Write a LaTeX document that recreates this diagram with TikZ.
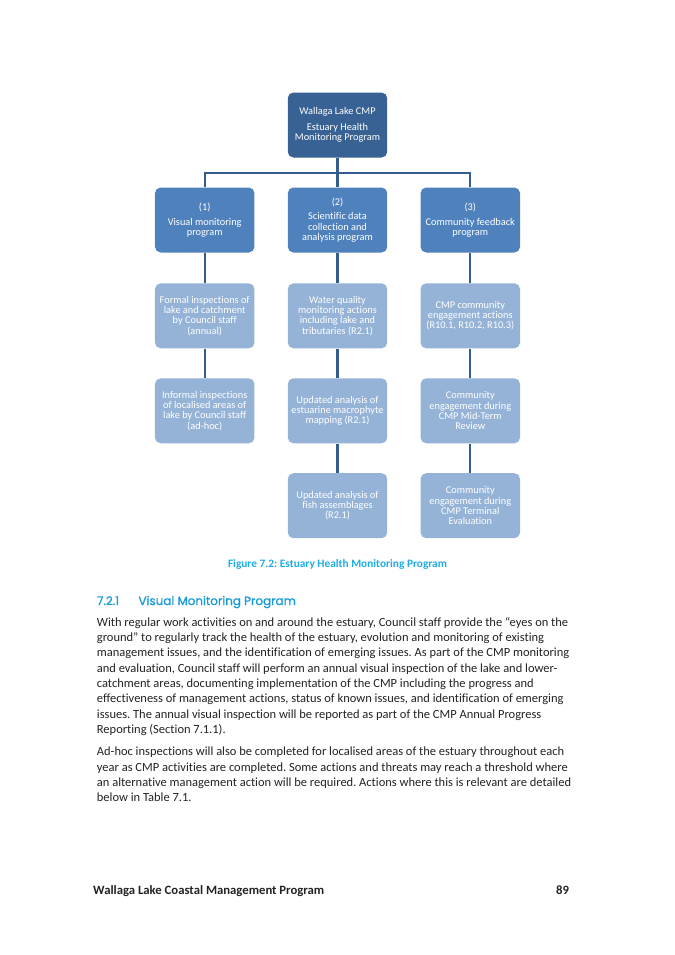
\documentclass[tikz,border=0pt]{standalone}
\usepackage{fontspec}
\setmainfont{Carlito}[Ligatures=NoCommon]
\newfontfamily\headfont{Poppins}[FakeBold=0.9]
\usepackage{xcolor}
\definecolor{topblue}{RGB}{56,98,148}
\definecolor{midblue}{RGB}{79,129,189}
\definecolor{paleblue}{RGB}{149,179,215}
\definecolor{linkblue}{RGB}{52,92,140}
\definecolor{capblue}{RGB}{30,172,232}
\definecolor{headblue}{RGB}{22,155,218}
\definecolor{bodygray}{RGB}{35,35,35}
\frenchspacing

\tikzset{
  chart/.style={rounded corners=5pt, minimum width=87.7pt, minimum height=57.3pt,
    inner sep=1pt, align=center, text=white, font=\fontsize{9.1}{9.1}\selectfont},
  topbox/.style={chart, fill=topblue},
  progbox/.style={chart, fill=midblue},
  taskbox/.style={chart, fill=paleblue},
  link/.style={draw=linkblue, line width=1.8pt},
  bodytext/.style={anchor=north west, align=left, inner sep=0pt, text=bodygray,
    font=\fontsize{11}{13.5}\selectfont},
}

\begin{document}
\begin{tikzpicture}[x=0.8815pt,y=-0.8815pt]
    \useasboundingbox[fill=white] (0,0) rectangle (675,955);

    % top of the chart
    \node[topbox] (top) at (337.5,125) {Wallaga Lake CMP\\[4.5pt] Estuary Health\\ Monitoring Program};

    % the three programs
    \node[progbox] (visual) at (204.7,220) {(1)\\[4pt] Visual monitoring\\ program};
    \node[progbox] (science) at (337.5,220) {(2)\\[4pt] Scientific data\\ collection and\\ analysis program};
    \node[progbox] (community) at (470.3,220) {(3)\\[4pt] Community feedback\\ program};

    % visual column
    \node[taskbox] (formal) at (204.7,315.8) {Formal inspections of\\ lake and catchment\\ by Council staff\\ (annual)};
    \node[taskbox] (informal) at (204.7,410.8) {Informal inspections\\ of localised areas of\\ lake by Council staff\\ (ad-hoc)};

    % science column
    \node[taskbox] (water) at (337.5,315.8) {Water quality\\ monitoring actions\\ including lake and\\ tributaries (R2.1)};
    \node[taskbox] (macro) at (337.5,410.8) {Updated analysis of\\ estuarine macrophyte\\ mapping (R2.1)};
    \node[taskbox] (fish) at (337.5,505.7) {Updated analysis of\\ fish assemblages\\ (R2.1)};

    % community column
    \node[taskbox] (engage) at (470.3,315.8) {CMP community\\ engagement actions\\ (R10.1, R10.2, R10.3)};
    \node[taskbox] (midterm) at (470.3,410.8) {Community\\ engagement during\\ CMP Mid-Term\\ Review};
    \node[taskbox] (terminal) at (470.3,505.7) {Community\\ engagement during\\ CMP Terminal\\ Evaluation};

    % connectors
    \coordinate (bus) at (337.5,173.3);
    \draw[link] (top) -- (science);
    \draw[link] (visual.north) -- (visual.north |- bus) -- (community.north |- bus) -- (community.north);
    \draw[link] (visual) -- (formal);
    \draw[link] (formal) -- (informal);
    \draw[link] (science) -- (water);
    \draw[link] (water) -- (macro);
    \draw[link] (macro) -- (fish);
    \draw[link] (community) -- (engage);
    \draw[link] (engage) -- (midterm);
    \draw[link] (midterm) -- (terminal);

    % caption
    \node (caption) [anchor=base, inner sep=0pt, text=capblue, font=\bfseries\fontsize{10}{11}\selectfont]
        at (337.5,567.5) {Figure 7.2: Estuary Health Monitoring Program};

    % section heading
    \node (secnum) [anchor=base west, inner sep=0pt, text=headblue, font=\headfont\fontsize{10.5}{12}\selectfont]
        at (96.7,605) {7.2.1};
    \node (sectitle) [anchor=base west, inner sep=0pt, text=headblue, font=\headfont\fontsize{10.5}{12}\selectfont]
        at (138.3,605) {Visual Monitoring Program};

    % body text
    \node (para1) [bodytext] at (96.7,617) {With regular work activities on and around the estuary, Council staff provide the “eyes on the\\
        ground” to regularly track the health of the estuary, evolution and monitoring of existing\\
        management issues, and the identification of emerging issues. As part of the CMP monitoring\\
        and evaluation, Council staff will perform an annual visual inspection of the lake and lower-\\
        catchment areas, documenting implementation of the CMP including the progress and\\
        effectiveness of management actions, status of known issues, and identification of emerging\\
        issues. The annual visual inspection will be reported as part of the CMP Annual Progress\\
        Reporting (Section 7.1.1).};
    \node (para2) [bodytext] at (96.7,747) {Ad-hoc inspections will also be completed for localised areas of the estuary throughout each\\
        year as CMP activities are completed. Some actions and threats may reach a threshold where\\
        an alternative management action will be required. Actions where this is relevant are detailed\\
        below in Table 7.1.};

    % footer
    \node (footleft) [anchor=base west, inner sep=0pt, text=bodygray, font=\bfseries\fontsize{11.2}{13}\selectfont]
        at (93,894) {Wallaga Lake Coastal Management Program};
    \node (footright) [anchor=base east, inner sep=0pt, text=bodygray, font=\bfseries\fontsize{11.2}{13}\selectfont]
        at (569.3,894) {89};
\end{tikzpicture}
\end{document}
